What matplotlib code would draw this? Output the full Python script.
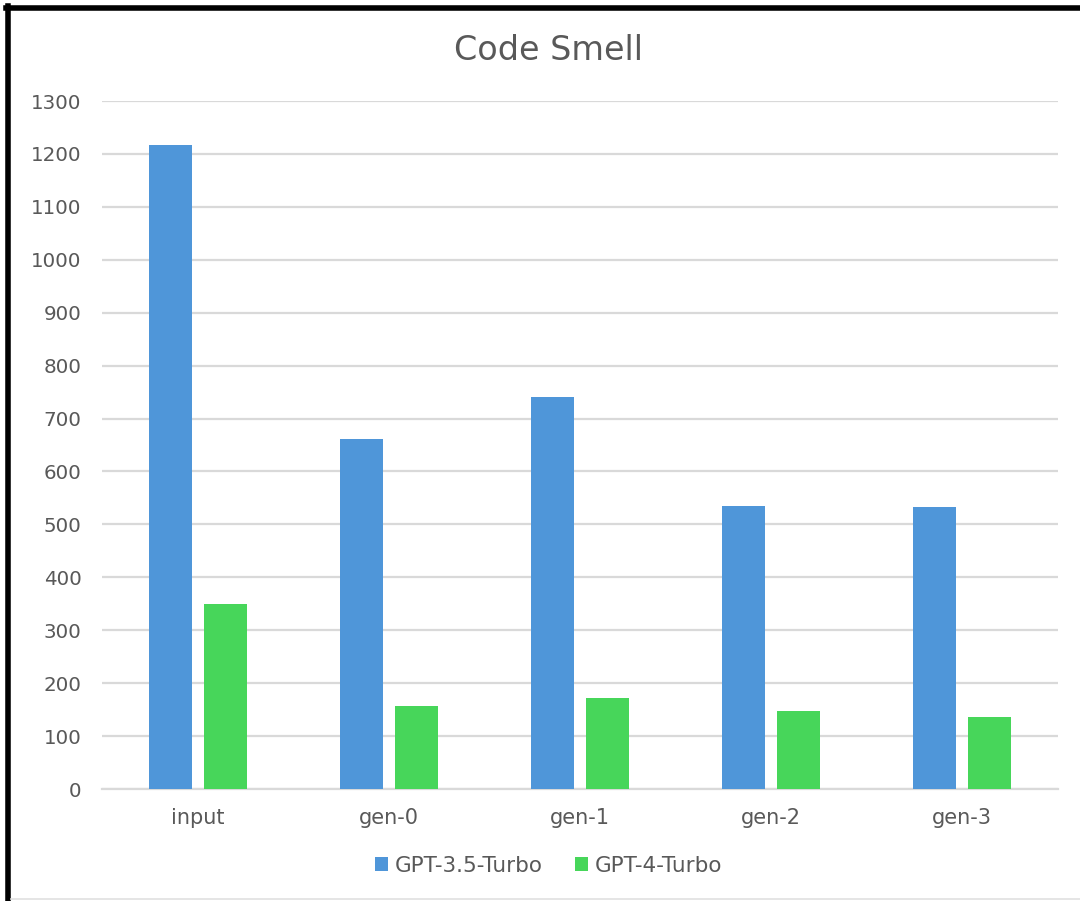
import numpy as np
import matplotlib
matplotlib.use("Agg")
import matplotlib.pyplot as plt
from matplotlib.lines import Line2D

plt.rcParams['font.family'] = ['DejaVu Sans']

# values
categories = ["input", "gen-0", "gen-1", "gen-2", "gen-3"]
gpt35 = [1217, 661, 741, 534, 532]
gpt4 = [350, 157, 172, 148, 137]
series_names = ["GPT-3.5-Turbo", "GPT-4-Turbo"]
y_ticks = list(range(0, 1301, 100))

blue = "#4F96D9"
green = "#47D65A"
grey_text = "#595959"
grid_col = "#D9D9D9"

fig = plt.figure(figsize=(10.8, 9.01), dpi=100)
ax = fig.add_axes([0.0949, 0.1243, 0.8843, 0.7636])

x = np.arange(len(categories))
w = 0.228
off = 0.143
ax.bar(x - off, gpt35, width=w, color=blue, label=series_names[0], zorder=3)
ax.bar(x + off, gpt4, width=w, color=green, label=series_names[1], zorder=3)

ax.set_xlim(-0.5, len(categories) - 0.5)
ax.set_ylim(0, 1300)
ax.set_yticks(y_ticks)
ax.set_xticks(x)
ax.set_xticklabels(categories)

ax.yaxis.grid(True, color=grid_col, linewidth=1.6, zorder=0)
ax.set_axisbelow(True)
for s in ["top", "right", "left"]:
    ax.spines[s].set_visible(False)
ax.spines["bottom"].set_color(grid_col)
ax.spines["bottom"].set_linewidth(1.6)
ax.tick_params(axis="both", length=0, labelcolor=grey_text)
ax.tick_params(axis="y", pad=15, labelsize=14.3)
ax.tick_params(axis="x", pad=14, labelsize=15)

fig.text(0.508, 0.944, "Code Smell", ha="center", va="center",
         fontsize=24, color=grey_text)

fig.legend(loc="center", bbox_to_anchor=(0.508, 0.039), ncol=2, frameon=False,
           fontsize=15.5, labelcolor=grey_text, handlelength=0.62, handleheight=0.62,
           handletextpad=0.3, columnspacing=1.5)

# black frame on the left and top, thin grey line at the bottom (screenshot edges)
fig.add_artist(Line2D([0.0074, 0.0074], [0, 0.993], color="black", lw=4, transform=fig.transFigure))
fig.add_artist(Line2D([0.0055, 1.0], [0.991, 0.991], color="black", lw=4, transform=fig.transFigure))
fig.add_artist(Line2D([0.01, 1.0], [0.002, 0.002], color="#E0E0E0", lw=1.2, transform=fig.transFigure))

fig.savefig("out.png", dpi=100)
